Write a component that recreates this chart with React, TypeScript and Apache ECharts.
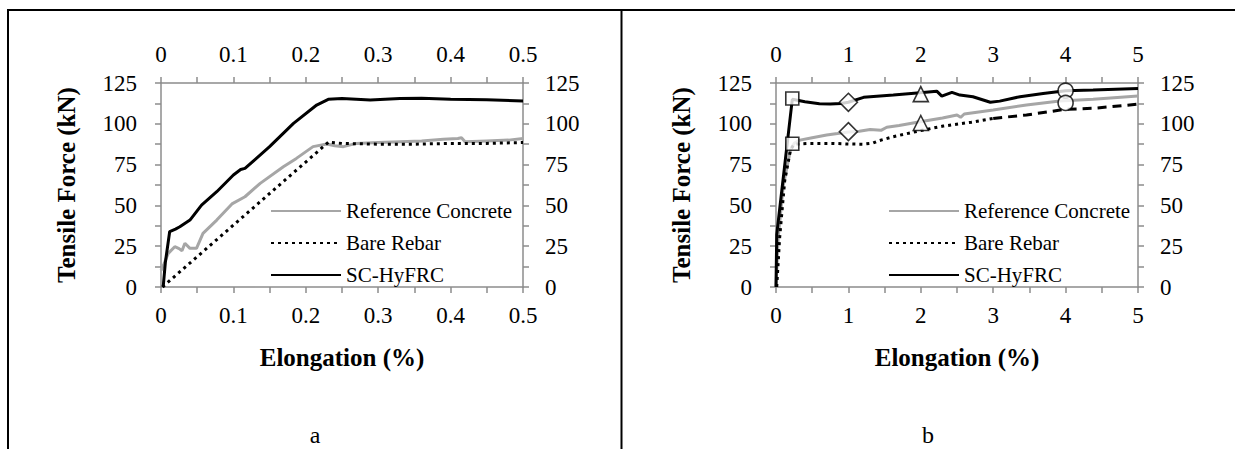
import { useEffect, useRef } from 'react';
import * as echarts from 'echarts';

// Panel a: elongation 0 – 0.5 %
const leftRefX = [0, 0.004, 0.01, 0.019, 0.025, 0.029, 0.033, 0.04, 0.049, 0.058, 0.077, 0.098, 0.116, 0.137, 0.169, 0.187, 0.21, 0.229, 0.24, 0.252, 0.27, 0.3, 0.33, 0.36, 0.39, 0.41, 0.415, 0.42, 0.45, 0.48, 0.5];
const leftRefY = [10, 14, 20.6, 24.7, 23.5, 22.2, 26.8, 23.7, 23.7, 32.9, 41, 50.9, 55.3, 63.5, 73.7, 78.8, 86, 87.6, 86.5, 86, 88, 88.5, 89, 89.5, 90.5, 91, 91.5, 89, 89.5, 90, 91];

const leftRebarX = [0.002, 0.232, 0.236, 0.25, 0.3, 0.35, 0.4, 0.45, 0.5];
const leftRebarY = [0, 89, 88.5, 88, 87.5, 87.5, 88, 88, 88.5];

const leftHyfrcX = [0.003, 0.006, 0.012, 0.02, 0.026, 0.04, 0.056, 0.077, 0.1, 0.11, 0.116, 0.15, 0.183, 0.215, 0.231, 0.25, 0.289, 0.33, 0.36, 0.4, 0.45, 0.5];
const leftHyfrcY = [0, 15, 34, 35.5, 36.9, 41, 50.2, 58.4, 68.6, 72, 72.7, 86, 100.3, 111.5, 115, 115.5, 114.6, 115.5, 115.7, 115, 114.8, 114];

// Panel b: elongation 0 – 5 %
const rightRefX = [0, 0.03, 0.1, 0.2, 0.25, 0.33, 0.5, 0.7, 0.85, 1.0, 1.15, 1.3, 1.45, 1.53, 1.7, 1.99, 2.3, 2.5, 2.55, 2.6, 3.0, 3.46, 3.92, 4.38, 5.0];
const rightRefY = [0, 30, 62, 84, 88, 90, 91.5, 93.1, 94, 95, 95.5, 96.5, 96, 97.9, 99, 101.3, 103.5, 105.4, 104, 106, 108.5, 111.5, 114, 115, 117];

const rightRebarX = [0.01, 0.05, 0.12, 0.2, 0.25, 0.47, 0.8, 1.0, 1.2, 1.34, 1.41, 1.62, 1.99, 2.31, 2.7, 3.0];
const rightRebarY = [0, 30, 65, 84, 87.5, 88, 88, 87.6, 87.5, 88.2, 89.5, 92.1, 95.8, 98.6, 101, 103.3];
const rightRebarTailX = [3.0, 3.46, 4.0, 4.38, 5.0];
const rightRebarTailY = [103.3, 105.4, 108.9, 109.5, 112];

const rightHyfrcX = [0, 0.01, 0.225, 0.4, 0.6, 0.75, 0.9, 1.0, 1.21, 1.62, 1.99, 2.22, 2.29, 2.43, 2.54, 2.72, 2.96, 3.09, 3.37, 3.69, 4.0, 4.38, 5.0];
const rightHyfrcY = [0, 32, 115, 113.5, 112.3, 112.1, 112.5, 113.2, 116.2, 117.6, 119, 120, 117, 119.3, 117.6, 116.6, 113.2, 113.9, 116.6, 118.6, 120.3, 120.7, 121.7];

// Marked stages in panel b
const markerX = [0.225, 1, 2, 4];
const markerSymbols = ['rect', 'diamond', 'triangle', 'circle'];
const markerSizes = [13, 18, 15, 15];
const hyfrcMarkerY = [115.5, 113.2, 118.2, 120.3];
const refMarkerY = [87.8, 95.2, 100.5, 112.8];

const seriesNames = ['Reference Concrete', 'Bare Rebar', 'SC-HyFRC'];

const FONT = 'Liberation Serif';
const AXIS_GREY = '#8c8c8c';
const REF_GREY = '#a6a6a6';

const pairs = (xs: number[], ys: number[]) => xs.map((x, i) => [x, ys[i]]);

const grey = () => ({ color: AXIS_GREY, width: 1.5 });

function valueAxis(gridIndex: number, position: string, min: number, max: number, interval: number, margin: number, name?: string) {
  const axis: any = {
    type: 'value',
    gridIndex,
    position,
    min,
    max,
    interval,
    axisLine: { show: true, onZero: false, lineStyle: grey() },
    axisTick: { show: true, inside: false, length: 6, lineStyle: grey() },
    minorTick: { show: true, splitNumber: 2, length: 6, lineStyle: grey() },
    splitLine: { show: false },
    axisLabel: { color: '#000', fontFamily: FONT, fontSize: 23, margin },
  };
  if (name) {
    axis.name = name;
    axis.nameLocation = 'middle';
    axis.nameTextStyle = { color: '#000', fontFamily: FONT, fontSize: 25, fontWeight: 'bold' };
    if (position === 'left') {
      axis.nameGap = 82;
      axis.nameRotate = 90;
    } else {
      axis.nameGap = 58;
    }
  }
  return axis;
}

const lineSeries = (name: string, data: number[][], axis: number, color: string, type: any) => ({
  name, type: 'line', data,
  xAxisIndex: axis, yAxisIndex: axis,
  showSymbol: false, symbol: 'none',
  lineStyle: { color, width: 3, type, cap: 'butt' },
  itemStyle: { color },
});

const markerSeries = (name: string, ys: number[]) => ({
  name, type: 'scatter',
  xAxisIndex: 2, yAxisIndex: 2, z: 5,
  data: markerX.map((x, i) => ({
    value: [x, ys[i]],
    symbol: markerSymbols[i],
    symbolSize: markerSizes[i],
  })),
  itemStyle: { color: '#fff', borderColor: '#000', borderWidth: 1.6 },
});

const legendAt = (left: number) => ({
  data: seriesNames,
  orient: 'vertical',
  left, top: 194,
  itemWidth: 70, itemHeight: 14, itemGap: 8,
  itemStyle: { opacity: 0 },
  textStyle: { color: '#000', fontFamily: FONT, fontSize: 21, lineHeight: 24 },
  selectedMode: false,
});

// Every text of the figure is set in a Times-style serif face
const serifCss = `.tensile-figure svg text { font-family: "Liberation Serif", "Times New Roman", serif !important; }`;

export default function App() {
  const ref = useRef<HTMLDivElement>(null);

  useEffect(() => {
    if (!ref.current) return;
    const chart = echarts.init(ref.current, undefined, { renderer: 'svg' });
    const dotted = [3, 4];
    chart.setOption({
      animation: false,
      backgroundColor: '#fff',
      textStyle: { fontFamily: FONT },
      grid: [
        { left: 161, top: 83, width: 362, height: 204 },
        { left: 776, top: 83, width: 362, height: 204 },
      ],
      xAxis: [
        valueAxis(0, 'bottom', 0, 0.5, 0.1, 17, 'Elongation (%)'),
        valueAxis(0, 'top', 0, 0.5, 0.1, 17),
        valueAxis(1, 'bottom', 0, 5, 1, 17, 'Elongation (%)'),
        valueAxis(1, 'top', 0, 5, 1, 17),
      ],
      yAxis: [
        valueAxis(0, 'left', 0, 125, 25, 24, 'Tensile Force (kN)'),
        valueAxis(0, 'right', 0, 125, 25, 22),
        valueAxis(1, 'left', 0, 125, 25, 24, 'Tensile Force (kN)'),
        valueAxis(1, 'right', 0, 125, 25, 22),
      ],
      legend: [legendAt(265), legendAt(883)],
      series: [
        lineSeries('Reference Concrete', pairs(leftRefX, leftRefY), 0, REF_GREY, 'solid'),
        lineSeries('Bare Rebar', pairs(leftRebarX, leftRebarY), 0, '#000', dotted),
        lineSeries('SC-HyFRC', pairs(leftHyfrcX, leftHyfrcY), 0, '#000', 'solid'),
        lineSeries('Reference Concrete', pairs(rightRefX, rightRefY), 2, REF_GREY, 'solid'),
        lineSeries('Bare Rebar', pairs(rightRebarX, rightRebarY), 2, '#000', dotted),
        lineSeries('Bare Rebar', pairs(rightRebarTailX, rightRebarTailY), 2, '#000', [9, 6]),
        lineSeries('SC-HyFRC', pairs(rightHyfrcX, rightHyfrcY), 2, '#000', 'solid'),
        markerSeries('SC-HyFRC stages', hyfrcMarkerY),
        markerSeries('Reference Concrete stages', refMarkerY),
      ],
      graphic: [
        { type: 'line', shape: { x1: 7, y1: 10, x2: 1235, y2: 10 }, style: { stroke: '#000', lineWidth: 2 } },
        { type: 'line', shape: { x1: 8, y1: 9, x2: 8, y2: 449 }, style: { stroke: '#000', lineWidth: 2 } },
        { type: 'line', shape: { x1: 621.5, y1: 9, x2: 621.5, y2: 449 }, style: { stroke: '#000', lineWidth: 2 } },
        {
          type: 'text', x: 315, y: 435,
          style: { text: 'a', fill: '#000', font: `24px ${FONT}`, align: 'center', verticalAlign: 'middle' },
        },
        {
          type: 'text', x: 928, y: 435,
          style: { text: 'b', fill: '#000', font: `24px ${FONT}`, align: 'center', verticalAlign: 'middle' },
        },
      ],
    });
    return () => chart.dispose();
  }, []);

  return (
    <>
      <style>{serifCss}</style>
      <div
        ref={ref}
        className="tensile-figure"
        style={{ position: 'absolute', left: 0, top: 0, width: 1235, height: 449, background: '#fff' }}
      />
    </>
  );
}
